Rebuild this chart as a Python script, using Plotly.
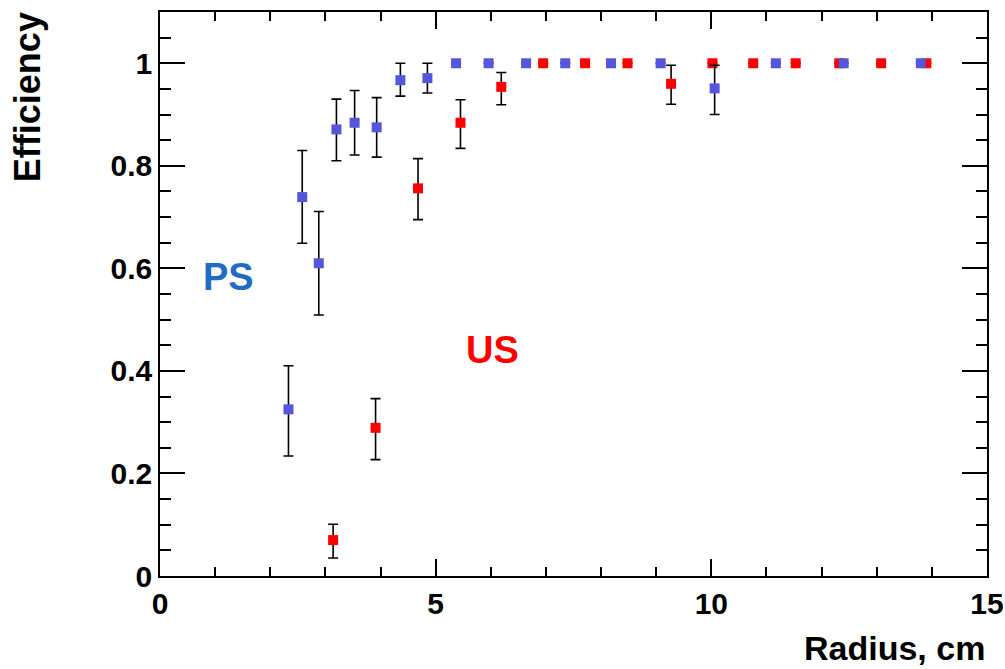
import plotly.graph_objects as go

# PS (blue) data
ps_x = [2.33, 2.58, 2.88, 3.20, 3.53, 3.93, 4.36, 4.85, 5.37, 5.96, 6.64, 7.35, 8.18, 9.08, 10.06, 11.17, 12.40, 13.80]
ps_y = [0.325, 0.739, 0.610, 0.871, 0.884, 0.875, 0.967, 0.971, 1.0, 1.0, 1.0, 1.0, 1.0, 1.0, 0.951, 1.0, 1.0, 1.0]
ps_err_hi = [0.085, 0.091, 0.101, 0.059, 0.063, 0.058, 0.033, 0.029, None, None, None, None, None, None, 0.045, None, None, None]
ps_err_lo = [0.091, 0.090, 0.101, 0.061, 0.063, 0.058, 0.031, 0.029, None, None, None, None, None, None, 0.051, None, None, None]

# US (red) data
us_x = [3.14, 3.91, 4.68, 5.45, 6.19, 6.95, 7.71, 8.48, 9.27, 10.02, 10.76, 11.53, 12.32, 13.08, 13.90]
us_y = [0.070, 0.289, 0.756, 0.884, 0.954, 1.0, 1.0, 1.0, 0.960, 1.0, 1.0, 1.0, 1.0, 1.0, 1.0]
us_err_hi = [0.031, 0.057, 0.058, 0.045, 0.028, None, None, None, 0.036, None, None, None, None, None, None]
us_err_lo = [0.035, 0.062, 0.061, 0.050, 0.035, None, None, None, 0.040, None, None, None, None, None, None]

x_ticks = [0, 5, 10, 15]
y_ticks = [0, 0.2, 0.4, 0.6, 0.8, 1.0]
y_tick_text = ["0", "0.2", "0.4", "0.6", "0.8", "1"]

FONT = "Liberation Sans"

fig = go.Figure()
fig.add_trace(go.Scatter(
    x=us_x, y=us_y, mode="markers",
    marker=dict(symbol="square", size=10, color="#ff0000"),
    error_y=dict(type="data", symmetric=False, array=us_err_hi, arrayminus=us_err_lo,
                 color="black", thickness=1.6, width=5),
    showlegend=False,
))
fig.add_trace(go.Scatter(
    x=ps_x, y=ps_y, mode="markers",
    marker=dict(symbol="square", size=10, color="#5656dc"),
    error_y=dict(type="data", symmetric=False, array=ps_err_hi, arrayminus=ps_err_lo,
                 color="black", thickness=1.6, width=5),
    showlegend=False,
))

fig.update_layout(
    width=1005, height=669,
    margin=dict(l=160, r=18, t=12, b=93),
    paper_bgcolor="white", plot_bgcolor="white",
    font=dict(family=FONT, color="black"),
    xaxis=dict(
        range=[0, 15], tickvals=x_ticks, ticktext=[str(v) for v in x_ticks],
        ticks="inside", ticklen=17, tickwidth=1.5, tickcolor="black",
        minor=dict(dtick=1, ticks="inside", ticklen=9, tickwidth=1.5, tickcolor="black"),
        showline=True, linecolor="black", linewidth=1.5, mirror="allticks",
        showgrid=False, zeroline=False, ticklabeloverflow="allow", automargin=False,
        tickfont=dict(family=FONT, size=30, color="black", weight="bold"),
    ),
    yaxis=dict(
        range=[0, 1.1], tickvals=y_ticks, ticktext=y_tick_text,
        ticks="inside", ticklen=25, tickwidth=1.5, tickcolor="black",
        minor=dict(dtick=0.05, ticks="inside", ticklen=11, tickwidth=1.5, tickcolor="black"),
        showline=True, linecolor="black", linewidth=1.5, mirror="allticks",
        showgrid=False, zeroline=False, ticklabeloverflow="allow", automargin=False,
        tickfont=dict(family=FONT, size=30, color="black", weight="bold"),
    ),
    annotations=[
        dict(text="<b>Efficiency</b>", textangle=-90, xref="paper", yref="paper",
             x=-0.161, y=1.003, xanchor="center", yanchor="top", showarrow=False,
             font=dict(family=FONT, size=36, color="black")),
        dict(text="<b>Radius, cm</b>", xref="paper", yref="paper",
             x=1.0, y=-0.127, xanchor="right", yanchor="middle", showarrow=False,
             font=dict(family=FONT, size=34, color="black")),
        dict(text="<b>PS</b>", xref="x", yref="y", x=1.24, y=0.584,
             xanchor="center", yanchor="middle", showarrow=False,
             font=dict(family=FONT, size=38, color="#1f6dc2")),
        dict(text="<b>US</b>", xref="x", yref="y", x=6.03, y=0.440,
             xanchor="center", yanchor="middle", showarrow=False,
             font=dict(family=FONT, size=38, color="#ff0000")),
    ],
)

# remove the default 8px page margin so the figure fills the window exactly
fig.write_html("out.html", config={"displayModeBar": False},
               post_script="document.body.style.margin='0';")
